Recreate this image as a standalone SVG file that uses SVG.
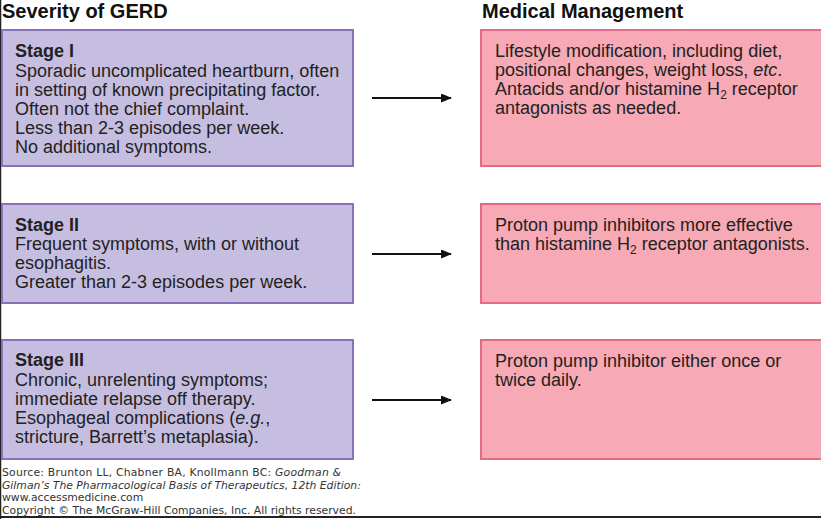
<svg xmlns="http://www.w3.org/2000/svg" width="821" height="519" viewBox="0 0 821 519">
<defs>
<marker id="ah" markerWidth="11" markerHeight="9" refX="10" refY="4.5" orient="auto" markerUnits="userSpaceOnUse">
<path d="M0,0 L11,4.5 L0,9 z" fill="#111"/>
</marker>
<style>
.hd{font-family:"Liberation Sans",Arial,sans-serif;font-weight:bold;font-size:20px;fill:#111}
.t{font-family:"Liberation Sans",Arial,sans-serif;font-size:18px;fill:#222}
.b{font-weight:bold}
.sev{fill:#c6bee0;stroke:#8a6fba;stroke-width:2}
.mgmt{fill:#f7a9b5;stroke:#e36b88;stroke-width:2}
.ft{font-family:"DejaVu Sans",Verdana,sans-serif;font-size:10.8px;fill:#333}
.it{font-style:italic}
.conn line{stroke:#111;stroke-width:2;marker-end:url(#ah)}
</style>
</defs>
<rect width="821" height="519" fill="#fff"/>
<line x1="0.5" y1="0" x2="0.5" y2="519" stroke="#222" stroke-width="1.5"/>
<line x1="0" y1="517" x2="821" y2="517" stroke="#222" stroke-width="2"/>
<text class="hd" x="2" y="18">Severity of GERD</text>
<text class="hd" x="482" y="18">Medical Management</text>

<g id="stage1">
<rect class="sev" x="2" y="30" width="351" height="136"/>
<text class="t"><tspan class="b" x="15" y="57">Stage I</tspan><tspan x="15" y="77">Sporadic uncomplicated heartburn, often</tspan><tspan x="15" y="96">in setting of known precipitating factor.</tspan><tspan x="15" y="115">Often not the chief complaint.</tspan><tspan x="15" y="134">Less than 2-3 episodes per week.</tspan><tspan x="15" y="153">No additional symptoms.</tspan></text>
</g>
<g id="stage2">
<rect class="sev" x="2" y="204" width="351" height="99"/>
<text class="t"><tspan class="b" x="15" y="231">Stage II</tspan><tspan x="15" y="250">Frequent symptoms, with or without</tspan><tspan x="15" y="269">esophagitis.</tspan><tspan x="15" y="288">Greater than 2-3 episodes per week.</tspan></text>
</g>
<g id="stage3">
<rect class="sev" x="2" y="340" width="351" height="119"/>
<text class="t"><tspan class="b" x="15" y="366">Stage III</tspan><tspan x="15" y="386">Chronic, unrelenting symptoms;</tspan><tspan x="15" y="405">immediate relapse off therapy.</tspan><tspan x="15" y="424">Esophageal complications (<tspan class="it">e.g.</tspan>,</tspan><tspan x="15" y="443">stricture, Barrett’s metaplasia).</tspan></text>
</g>

<g id="mgmt1">
<rect class="mgmt" x="481" y="30" width="346" height="136"/>
<text class="t"><tspan x="495" y="57">Lifestyle modification, including diet,</tspan><tspan x="495" y="76">positional changes, weight loss, <tspan class="it">etc</tspan>.</tspan><tspan x="495" y="95">Antacids and/or histamine H<tspan font-size="12" dy="4">2</tspan><tspan dy="-4"> receptor</tspan></tspan><tspan x="495" y="114">antagonists as needed.</tspan></text>
</g>
<g id="mgmt2">
<rect class="mgmt" x="481" y="204" width="346" height="99"/>
<text class="t"><tspan x="495" y="231">Proton pump inhibitors more effective</tspan><tspan x="495" y="250">than histamine H<tspan font-size="12" dy="4">2</tspan><tspan dy="-4"> receptor antagonists.</tspan></tspan></text>
</g>
<g id="mgmt3">
<rect class="mgmt" x="481" y="340" width="346" height="119"/>
<text class="t"><tspan x="495" y="367">Proton pump inhibitor either once or</tspan><tspan x="495" y="386">twice daily.</tspan></text>
</g>

<g id="connectors" class="conn">
<line x1="372" y1="98" x2="451" y2="98"/>
<line x1="372" y1="254" x2="451" y2="254"/>
<line x1="372" y1="400" x2="451" y2="400"/>
</g>

<g id="footer">
<text class="ft" x="2" y="476" textLength="339" lengthAdjust="spacing">Source: Brunton LL, Chabner BA, Knollmann BC: <tspan class="it">Goodman &amp;</tspan></text>
<text class="ft it" x="2" y="489">Gilman’s The Pharmacological Basis of Therapeutics, 12th Edition:</text>
<text class="ft" x="2" y="501">www.accessmedicine.com</text>
<text class="ft" x="2" y="514">Copyright © The McGraw-Hill Companies, Inc. All rights reserved.</text>
</g>
</svg>
